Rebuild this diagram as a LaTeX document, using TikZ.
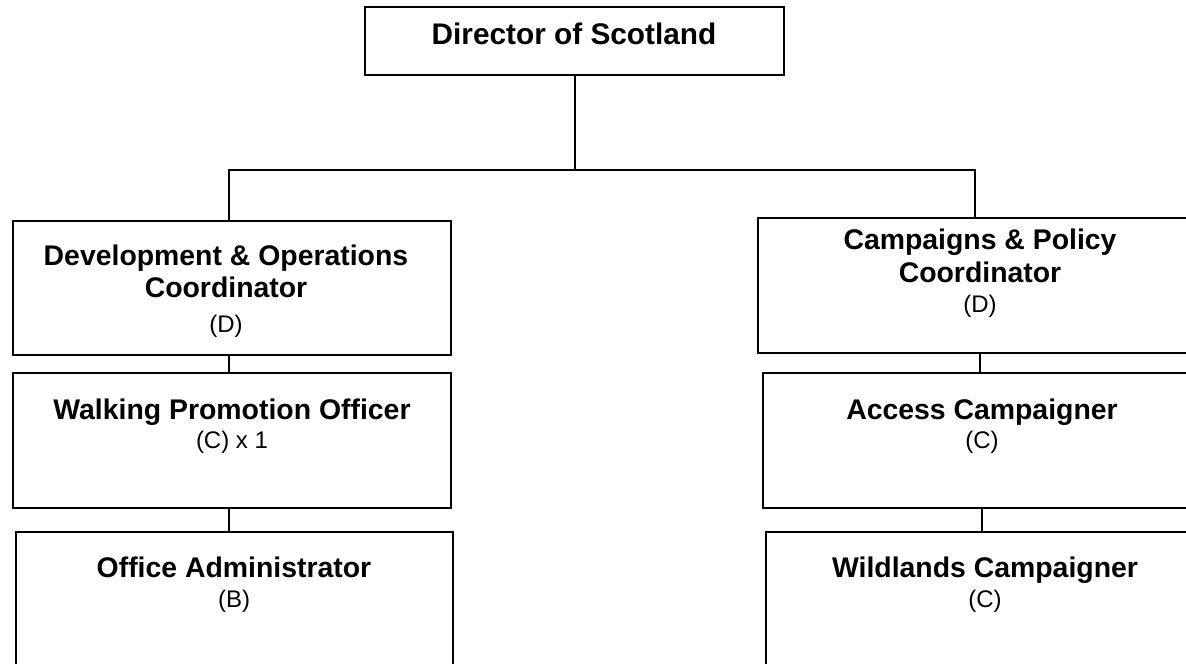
\documentclass[tikz,border=0pt]{standalone}
\usepackage{fontspec}
\setmainfont{Liberation Sans}
\usetikzlibrary{positioning}

\tikzset{
  post/.style={draw, line width=1pt, rectangle, inner sep=0pt},
  head/.style={font=\fontsize{14.9}{16}\selectfont\bfseries, anchor=base, inner sep=0pt},
  title/.style={font=\fontsize{14.2}{16}\selectfont\bfseries, anchor=base, inner sep=0pt},
  grade/.style={font=\fontsize{12}{14}\selectfont, anchor=base, inner sep=0pt},
  link/.style={line width=1pt}
}

\begin{document}
\begin{tikzpicture}[x=0.5pt, y=-0.5pt]
\clip (0,0) rectangle (1186,663);

% boxes
\node[post, minimum width=209.5pt, minimum height=34pt] (dir) at (574.5,41.3) {};
\node[post, minimum width=219pt, minimum height=67pt] (dev) at (232,288) {};
\node[post, minimum width=219pt, minimum height=67.5pt] (walk) at (232,440.5) {};
\node[post, minimum width=218.5pt, minimum height=84pt] (off) at (234.5,616) {};
\node[post, minimum width=222pt, minimum height=67.5pt] (camp) at (980,285.5) {};
\node[post, minimum width=219pt, minimum height=67.5pt] (acc) at (982,440.5) {};
\node[post, minimum width=219pt, minimum height=84pt] (wild) at (985,616) {};

% texts
\node[head] (dirT) at (574,45) {Director of Scotland};

\node[title] (devT1) at (226,265) {Development \& Operations};
\node[title] (devT2) at (226,297) {Coordinator};
\node[grade] (devG) at (226,332) {(D)};

\node[title] (walkT) at (232,419) {Walking Promotion Officer};
\node[grade] (walkG) at (232,448) {(C) x 1};

\node[title] (offT) at (234,577) {Office Administrator};
\node[grade] (offG) at (234,607) {(B)};

\node[title] (campT1) at (980,249) {Campaigns \& Policy};
\node[title] (campT2) at (980,282) {Coordinator};
\node[grade] (campG) at (980,312) {(D)};

\node[title] (accT) at (982,419) {Access Campaigner};
\node[grade] (accG) at (982,448) {(C)};

\node[title] (wildT) at (985,577) {Wildlands Campaigner};
\node[grade] (wildG) at (985,607) {(C)};

% lines
\coordinate (busL) at (229,170);
\coordinate (busR) at (975,170);
\draw[link] (dir.south) -- (dir.south |- busL);
\draw[link] (dev.north -| busL) |- (busR) -- (camp.north -| busR);
\draw[link] (dev.south -| busL) -- (walk.north -| busL);
\draw[link] (walk.south -| busL) -- (off.north -| busL);
\draw[link] (camp.south) -- (camp.south |- acc.north);
\draw[link] (acc.south) -- (acc.south |- wild.north);
\end{tikzpicture}
\end{document}
